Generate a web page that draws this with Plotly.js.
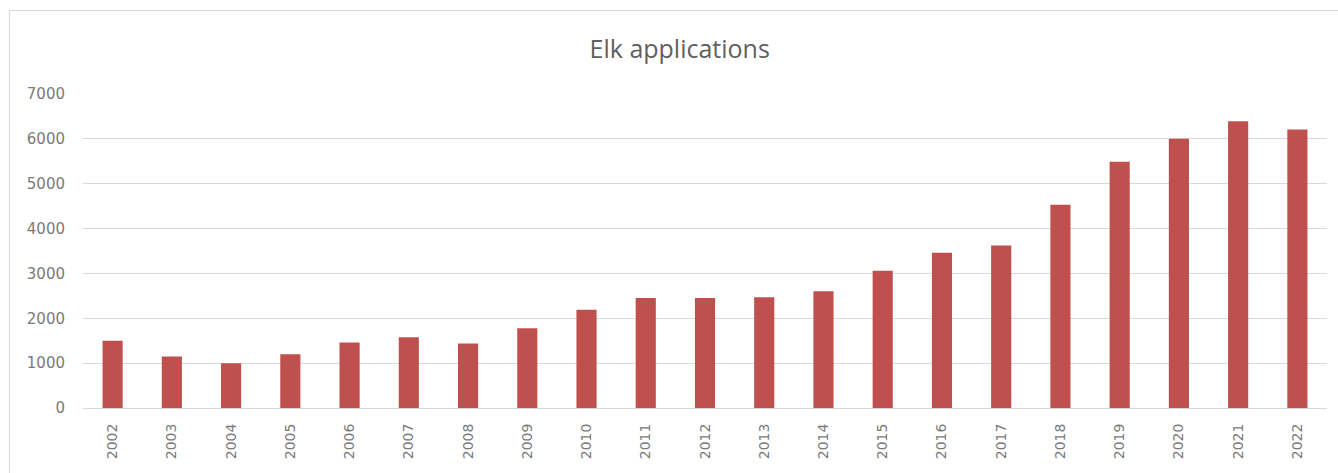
<!DOCTYPE html>
<html>
<head>
<meta charset="utf-8">
<script src="https://cdn.plot.ly/plotly-3.0.1.min.js"></script>
<style>
  html, body { margin: 0; padding: 0; background: #ffffff; overflow: hidden; }
  #wrap { position: relative; width: 1338px; height: 473px; }
  #chart { position: absolute; left: 0; top: 0; width: 1338px; height: 473px; }
  #frame { position: absolute; left: 9px; top: 10px; width: 1340px; height: 480px;
           border: 1px solid #d9d9d9; pointer-events: none; box-sizing: border-box; }
</style>
</head>
<body>
<div id="wrap">
  <div id="chart"></div>
  <div id="frame"></div>
</div>
<script>
const years = ["2002","2003","2004","2005","2006","2007","2008","2009","2010","2011","2012",
               "2013","2014","2015","2016","2017","2018","2019","2020","2021","2022"];
const applications = [1500, 1150, 1000, 1200, 1460, 1580, 1440, 1780, 2190, 2450, 2450,
                      2470, 2600, 3060, 3460, 3620, 4530, 5490, 6000, 6390, 6210];
const yTicks = [0, 1000, 2000, 3000, 4000, 5000, 6000, 7000];
const chartTitle = "Elk applications";

const trace = {
  type: "bar",
  x: years,
  y: applications,
  marker: { color: "#c0504d" },
  hoverinfo: "x+y"
};

const tickFont = "'DejaVu Sans', 'Open Sans', sans-serif";

const layout = {
  width: 1338,
  height: 473,
  margin: { l: 83, r: 11, t: 94, b: 65 },
  paper_bgcolor: "#ffffff",
  plot_bgcolor: "#ffffff",
  bargap: 0.66,
  showlegend: false,
  font: { family: "'Open Sans', sans-serif", color: "#595959" },
  title: {
    text: chartTitle,
    font: { family: "'Open Sans', sans-serif", size: 25, color: "#5f5f5f" },
    x: 0.508,
    xanchor: "center",
    y: 0.895,
    yanchor: "middle"
  },
  xaxis: {
    type: "category",
    tickangle: -90,
    tickfont: { family: tickFont, size: 14, color: "#7a7a7a" },
    showgrid: false,
    showline: true,
    linecolor: "#d9d9d9",
    linewidth: 1,
    ticks: "outside",
    ticklen: 9,
    tickcolor: "rgba(0,0,0,0)",
    fixedrange: true
  },
  yaxis: {
    range: [0, 7000],
    tickvals: yTicks,
    ticktext: yTicks.map(String),
    tickfont: { family: tickFont, size: 15, color: "#7a7a7a" },
    showgrid: true,
    gridcolor: "#d9d9d9",
    gridwidth: 1,
    zeroline: false,
    showline: false,
    ticks: "outside",
    ticklen: 14,
    tickcolor: "rgba(0,0,0,0)",
    fixedrange: true
  }
};

Plotly.newPlot("chart", [trace], layout, { displayModeBar: false, staticPlot: true });
</script>
</body>
</html>
